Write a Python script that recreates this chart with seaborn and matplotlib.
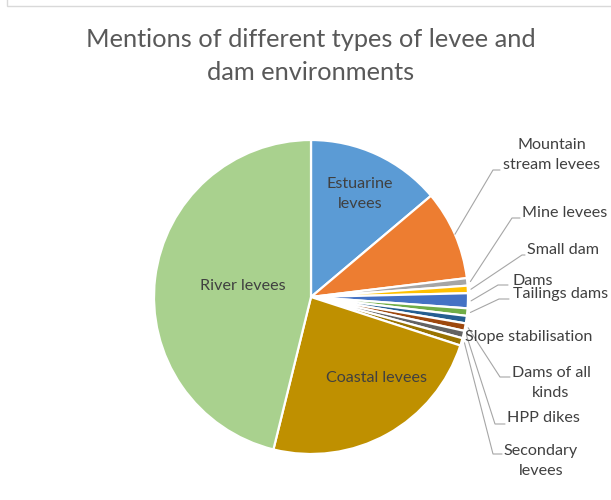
import matplotlib
matplotlib.use("Agg")
import matplotlib.pyplot as plt
import numpy as np
import seaborn as sns

# Mentions per environment type, in the order the slices run clockwise from 12 o'clock
categories = [
    "Estuarine levees", "Mountain stream levees", "Mine levees", "Small dam",
    "Dams", "Tailings dams", "Slope stabilisation", "Dams of all kinds",
    "HPP dikes", "Secondary levees", "Coastal levees", "River levees",
]
mentions = [18, 12, 1, 1, 2, 1, 1, 1, 1, 1, 31, 60]
slice_colors = [
    "#5B9BD5", "#ED7D31", "#A5A5A5", "#FFC000", "#4472C4", "#70AD47",
    "#255E91", "#9E480E", "#636363", "#997300", "#BF9000", "#A9D18E",
]
label_texts = [
    "Estuarine\nlevees", "Mountain\nstream levees", "Mine levees", "Small dam",
    "Dams", "Tailings dams", "Slope stabilisation", "Dams of all\nkinds",
    "HPP dikes", "Secondary\nlevees", "Coastal levees", "River levees",
]
title = "Mentions of different types of levee and\ndam environments"

sns.set_theme(style="white")
plt.rcParams["font.family"] = ["Lato", "DejaVu Sans"]

W, H = 611, 500
fig = plt.figure(figsize=(W / 100, H / 100), dpi=100)
ax = fig.add_axes([0, 0, 1, 1])


def px(x, y):
    """Pixel position measured from the top-left corner -> data coords."""
    return x, H - y


cx, cy = px(311, 297)
radius = 157
palette = sns.color_palette(slice_colors)

wedges, _ = ax.pie(
    mentions,
    colors=palette,
    startangle=90,
    counterclock=False,
    center=(cx, cy),
    radius=radius,
    wedgeprops=dict(edgecolor="white", linewidth=1.6),
)
ax.set_xlim(0, W)
ax.set_ylim(0, H)
ax.set_aspect("equal")
ax.axis("off")

# chart-area frame
frame_col = "#D9D9D9"
ax.plot([7, 7, W + 5], [H + 5, H - 6, H - 6], color=frame_col, lw=1.0,
        solid_joinstyle="miter", clip_on=False)

ax.text(311, H - 56, title, ha="center", va="center",
        fontsize=18.3, color="#595959", linespacing=1.55)

text_col = "#404040"
fs = 11.6

# labels inside the large slices
inside = {
    "Estuarine levees": (360, 194),
    "River levees": (243, 286),
    "Coastal levees": (376, 378),
}
# labels outside: text anchor, leader bend point, tail end, alignment
outside = {
    "Mountain stream levees": ((552, 155), (493, 170), (500, 170), "center"),
    "Mine levees": ((522, 213), (512, 218), (520, 218), "left"),
    "Small dam": ((527, 250), (522, 255), (525, 255), "left"),
    "Dams": ((512, 281), (498, 285), (508, 285), "left"),
    "Tailings dams": ((513, 294), (499, 299), (509, 299), "left"),
    "Slope stabilisation": ((465, 337), None, None, "left"),
    "Dams of all kinds": ((551, 383), (500, 377), (510, 377), "center"),
    "HPP dikes": ((507, 418), (495, 424), (505, 424), "left"),
    "Secondary levees": ((541, 461), (493, 454), (502, 454), "center"),
}

for w, name, txt in zip(wedges, categories, label_texts):
    if name in inside:
        x, y = px(*inside[name])
        ax.text(x, y, txt, ha="center", va="center", fontsize=fs,
                color=text_col, linespacing=1.55)
        continue
    (tx, ty), bend, tail, ha = outside[name]
    x, y = px(tx, ty)
    ax.text(x, y, txt, ha=ha, va="center", fontsize=fs, color=text_col,
            linespacing=1.55)
    if bend is None:
        continue
    mid = np.deg2rad((w.theta1 + w.theta2) / 2)
    r0 = radius * (1.0 if name == "Mountain stream levees" else 1.02)
    sx, sy = cx + r0 * np.cos(mid), cy + r0 * np.sin(mid)
    bx, by = px(*bend)
    ex, ey = px(*tail)
    ax.plot([sx, bx, ex], [sy, by, ey], color="#A6A6A6", lw=0.8,
            solid_joinstyle="miter")

fig.savefig("out.png", dpi=100, facecolor="white")
